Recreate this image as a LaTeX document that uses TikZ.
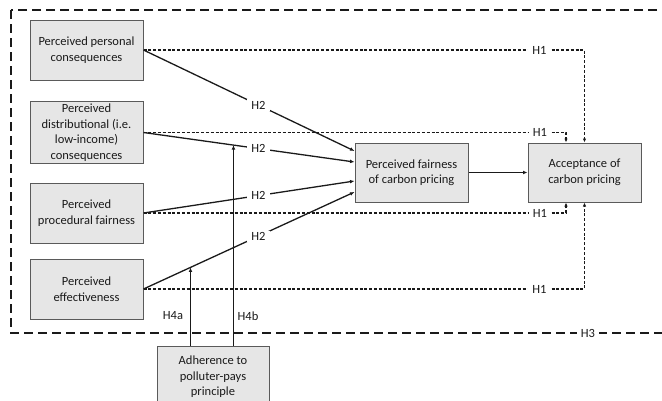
\documentclass[tikz,border=0pt]{standalone}
\usepackage{fontspec}
\setmainfont{Carlito}
\usetikzlibrary{arrows.meta,calc}
\definecolor{boxfill}{HTML}{E6E6E6}
\definecolor{boxline}{HTML}{5A5A5A}
\definecolor{ink}{HTML}{1A1A1A}
\begin{document}
\begin{tikzpicture}[x=1pt,y=-1pt,
  box/.style={draw=boxline,fill=boxfill,line width=1pt,minimum width=113pt,minimum height=60pt,
    align=center,text=ink,font=\fontsize{12.5}{15.5}\selectfont,inner sep=2pt},
  lab/.style={fill=white,inner xsep=4pt,inner ysep=1.5pt,text=ink,font=\fontsize{12.5}{14}\selectfont},
  plainlab/.style={inner sep=1pt,text=ink,font=\fontsize{12.5}{14}\selectfont},
  sol/.style={draw=ink,line width=1.3pt,-{Latex[length=4.5pt,width=3.8pt]}},
  hyp/.style={draw=ink,line width=1.1pt,dash pattern=on 3pt off 1.8pt,-{Latex[length=4pt,width=3.4pt]}},
  outer/.style={draw=ink,line width=1.4pt,dash pattern=on 9pt off 5pt}]
\useasboundingbox (0,0) rectangle (662,400);
% outer dashed frame
\draw[outer] (11,10) rectangle (690,333);
\node[lab] (h3) at (588,333) {H3};
% boxes
\node[box] (b1) at (86.5,50) {Perceived personal\\consequences};
\node[box,minimum height=59pt] (b2) at (86.5,132.5) {Perceived\\distributional (i.e.\\low-income)\\consequences};
\node[box] (b3) at (86.5,213) {Perceived\\procedural fairness};
\node[box] (b4) at (86.5,289) {Perceived\\effectiveness};
\node[box,minimum height=59pt] (pf) at (411.5,172.5) {Perceived fairness\\of carbon pricing};
\node[box,minimum height=59pt] (acc) at (584.5,172.5) {Acceptance of\\carbon pricing};
\node[box,minimum width=112pt,minimum height=62pt] (ad) at (213,377) {Adherence to\\polluter-pays\\principle};
% target points
\coordinate (t1) at ($(pf.west)+(0,-21.5)$);
\coordinate (t2) at ($(pf.west)+(0,-10.5)$);
\coordinate (t3) at ($(pf.west)+(0,8.5)$);
\coordinate (t4) at ($(pf.west)+(0,19.5)$);
\coordinate (ai) at ($(acc.north)+(-18.5,0)$);
\coordinate (bi) at ($(acc.south)+(-18.5,0)$);
% H1 paths
\draw[hyp] (b1.east) -- node[lab,pos=0.898]{H1} (b1.east -| acc.north) -- (acc.north);
\draw[hyp] (b2.east) -- node[lab,pos=0.9385]{H1} (b2.east -| ai) -- (ai);
\draw[hyp] (b3.east) -- node[lab,pos=0.9385]{H1} (b3.east -| bi) -- (bi);
\draw[hyp] (b4.east) -- node[lab,pos=0.898]{H1} (b4.east -| acc.south) -- (acc.south);
% H2 paths
\draw[sol] (b1.east) -- node[lab,pos=0.545]{H2} (t1);
\draw[sol] (b2.east) -- node[lab,pos=0.545]{H2} coordinate[pos=0.4265] (m2) (t2);
\draw[sol] (b3.east) -- node[lab,pos=0.545]{H2} (t3);
\draw[sol] (b4.east) -- node[lab,pos=0.545]{H2} coordinate[pos=0.2227] (m4) (t4);
% mediator to acceptance
\draw[sol] (pf.east) -- (acc.west);
% moderation
\draw[sol] (ad.north -| m4) -- (m4);
\draw[sol] (ad.north -| m2) -- (m2);
\node[plainlab] (h4a) at (173,316) {H4a};
\node[plainlab] (h4b) at (248,316) {H4b};
\end{tikzpicture}
\end{document}
